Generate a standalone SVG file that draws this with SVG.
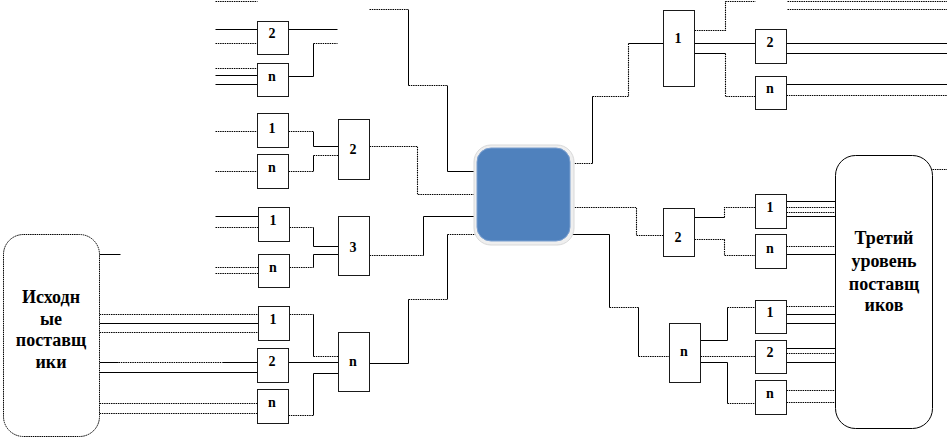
<svg xmlns="http://www.w3.org/2000/svg" width="947" height="439" viewBox="0 0 947 439">
<style>
.s{fill:none;stroke:#000;stroke-width:1}
.d{fill:none;stroke:#000;stroke-width:1.1;stroke-dasharray:1.5 0.8}
.box{fill:#fff;stroke:#1a1a1a;stroke-width:1}
.sup{fill:#fff;stroke:#000;stroke-width:1}
</style>
<rect width="947" height="439" fill="#fff"/>
<g id="connectors" transform="translate(0.5,0.5)">
<path class="d" d="M215,1 H257"/>
<path class="s" d="M215,29 H257"/>
<path class="d" d="M215,43 H257"/>
<path class="s" d="M288,29 H337"/>
<path class="d" d="M215,68 H257"/>
<path class="s" d="M215,75 H257"/>
<path class="s" d="M215,84 H257"/>
<path class="s" d="M288,76 H313 V43"/>
<path class="d" d="M313,43 H337"/>
<path class="d" d="M369,9 H408"/>
<path class="s" d="M408,9 V85"/>
<path class="d" d="M408,85 H447"/>
<path class="s" d="M447,85 V171 H476"/>
<path class="d" d="M215,131 H257"/>
<path class="d" d="M288,131 H313"/>
<path class="s" d="M313,131 V146 H338"/>
<path class="d" d="M215,171 H257"/>
<path class="d" d="M288,171 H313"/>
<path class="s" d="M313,171 V155"/>
<path class="d" d="M313,155 H338"/>
<path class="d" d="M369,146 H417 V194 H476"/>
<path class="s" d="M215,216 H258"/>
<path class="d" d="M215,227 H258"/>
<path class="d" d="M289,227 H313"/>
<path class="s" d="M313,227 V246 H338"/>
<path class="d" d="M215,267 H258"/>
<path class="d" d="M215,273 H258"/>
<path class="d" d="M289,267 H313"/>
<path class="s" d="M313,267 V254 H338"/>
<path class="d" d="M369,255 H423"/>
<path class="s" d="M423,255 V216 H476"/>
<path class="s" d="M99,254 H120"/>
<path class="d" d="M99,314 H258"/>
<path class="s" d="M99,323 H258"/>
<path class="d" d="M99,332 H258"/>
<path class="s" d="M99,362 H118"/>
<path class="d" d="M118,362 H222"/>
<path class="s" d="M222,362 H257"/>
<path class="s" d="M99,372 H257"/>
<path class="d" d="M99,403 H257"/>
<path class="d" d="M99,413 H257"/>
<path class="d" d="M289,314 H313"/>
<path class="s" d="M313,314 V356"/>
<path class="d" d="M313,356 H338"/>
<path class="s" d="M288,362 H338"/>
<path class="d" d="M288,415 H313"/>
<path class="s" d="M313,415 V373 H338"/>
<path class="s" d="M369,363 H408 V299"/>
<path class="d" d="M408,299 H447"/>
<path class="s" d="M447,299 V234"/>
<path class="d" d="M447,234 H476"/>
<path class="d" d="M572,163 H592"/>
<path class="s" d="M592,163 V96"/>
<path class="d" d="M592,96 H628 V43"/>
<path class="s" d="M628,43 H663"/>
<path class="d" d="M572,207 H636 V235 H663"/>
<path class="s" d="M572,234 H609 V307"/>
<path class="d" d="M609,307 H638"/>
<path class="s" d="M638,307 V356"/>
<path class="d" d="M638,356 H669"/>
<path class="d" d="M694,30 H725 V1 H755"/>
<path class="s" d="M694,43 H755"/>
<path class="s" d="M694,53 H725"/>
<path class="d" d="M725,53 V96 H755"/>
<path class="d" d="M787,1 H947"/>
<path class="d" d="M787,9 H947"/>
<path class="s" d="M786,43 H947"/>
<path class="s" d="M786,53 H947"/>
<path class="s" d="M786,84 H947"/>
<path class="d" d="M786,95 H947"/>
<path class="s" d="M694,217 H724"/>
<path class="d" d="M724,217 V207 H755"/>
<path class="d" d="M694,239 H724 V255 H755"/>
<path class="s" d="M786,201 H835"/>
<path class="d" d="M786,207 H835"/>
<path class="d" d="M786,212 H835"/>
<path class="s" d="M786,216 H835"/>
<path class="d" d="M786,246 H835"/>
<path class="s" d="M786,254 H835"/>
<path class="s" d="M700,340 H727 V307"/>
<path class="d" d="M727,307 H755"/>
<path class="d" d="M700,356 H755"/>
<path class="s" d="M700,362 H727 V403"/>
<path class="d" d="M727,403 H755"/>
<path class="d" d="M786,306 H835"/>
<path class="s" d="M786,314 H835"/>
<path class="s" d="M786,323 H835"/>
<path class="s" d="M786,348 H835"/>
<path class="d" d="M786,353 H835"/>
<path class="s" d="M786,362 H835"/>
<path class="d" d="M786,390 H835"/>
<path class="d" d="M786,402 H835"/>
<path class="d" d="M932,169 H947"/>
</g>

<g id="center-node">
<rect x="474" y="145" width="100" height="100" rx="17" fill="#efefef" stroke="#d9d9d9"/>
<rect x="477" y="148" width="93" height="93" rx="14" fill="#4f81bd" stroke="#7b9fcf"/>
</g>

<g id="source-suppliers" font-family="Liberation Serif" font-weight="bold" font-size="18" text-anchor="middle">
<rect class="sup" x="3.5" y="234.5" width="96" height="202" rx="20" stroke-dasharray="1.5 0.7"/>
<text x="51" y="303">Исходн</text>
<text x="51" y="325">ые</text>
<text x="51" y="346">поставщ</text>
<text x="51" y="368">ики</text>
</g>

<g id="third-level-suppliers" font-family="Liberation Serif" font-weight="bold" font-size="18" text-anchor="middle">
<rect class="sup" x="835.5" y="155.5" width="97" height="273" rx="20"/>
<text x="884" y="244">Третий</text>
<text x="884" y="267">уровень</text>
<text x="884" y="290">поставщ</text>
<text x="884" y="311">иков</text>
</g>

<g id="boxes" font-family="Liberation Serif" font-weight="bold" font-size="14" text-anchor="middle">
<g id="L-top-2"><rect class="box" x="257.5" y="21.5" width="31" height="33"/><text x="272" y="38">2</text></g>
<g id="L-top-n"><rect class="box" x="257.5" y="63.5" width="31" height="33"/><text x="272" y="81">n</text></g>
<g id="L-a-1"><rect class="box" x="257.5" y="113.5" width="31" height="34"/><text x="272" y="133">1</text></g>
<g id="L-a-n"><rect class="box" x="257.5" y="154.5" width="31" height="34"/><text x="272" y="172">n</text></g>
<g id="M-2"><rect class="box" x="338.5" y="119.5" width="31" height="60"/><text x="353" y="154">2</text></g>
<g id="L-b-1"><rect class="box" x="258.5" y="207.5" width="31" height="34"/><text x="273" y="225">1</text></g>
<g id="L-b-n"><rect class="box" x="258.5" y="254.5" width="31" height="33"/><text x="273" y="272">n</text></g>
<g id="M-3"><rect class="box" x="338.5" y="216.5" width="31" height="59"/><text x="353" y="252">3</text></g>
<g id="L-c-1"><rect class="box" x="258.5" y="306.5" width="31" height="34"/><text x="273" y="324">1</text></g>
<g id="L-c-2"><rect class="box" x="257.5" y="348.5" width="31" height="34"/><text x="272" y="366">2</text></g>
<g id="L-c-n"><rect class="box" x="257.5" y="389.5" width="31" height="34"/><text x="272" y="407">n</text></g>
<g id="M-n"><rect class="box" x="338.5" y="332.5" width="31" height="59"/><text x="353" y="366">n</text></g>
<g id="R-1"><rect class="box" x="663.5" y="10.5" width="31" height="76"/><text x="678" y="43">1</text></g>
<g id="R-1-2"><rect class="box" x="755.5" y="29.5" width="31" height="34"/><text x="770" y="47">2</text></g>
<g id="R-1-n"><rect class="box" x="755.5" y="76.5" width="31" height="33"/><text x="770" y="93">n</text></g>
<g id="R-2"><rect class="box" x="663.5" y="208.5" width="31" height="48"/><text x="678" y="242">2</text></g>
<g id="R-2-1"><rect class="box" x="755.5" y="194.5" width="31" height="34"/><text x="770" y="212">1</text></g>
<g id="R-2-n"><rect class="box" x="755.5" y="234.5" width="31" height="34"/><text x="770" y="253">n</text></g>
<g id="R-n"><rect class="box" x="669.5" y="323.5" width="31" height="59"/><text x="684" y="356">n</text></g>
<g id="R-n-1"><rect class="box" x="755.5" y="300.5" width="31" height="33"/><text x="770" y="317">1</text></g>
<g id="R-n-2"><rect class="box" x="755.5" y="340.5" width="31" height="33"/><text x="770" y="357">2</text></g>
<g id="R-n-n"><rect class="box" x="755.5" y="380.5" width="31" height="34"/><text x="770" y="398">n</text></g>
</g>
</svg>
